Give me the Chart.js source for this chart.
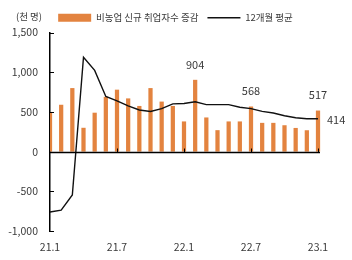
<!DOCTYPE html>
<html>
<head>
<meta charset="utf-8">
<script src="https://cdn.jsdelivr.net/npm/chart.js@4"></script>
<style>
  body { margin: 0; background: #fff; }
  #wrap { width: 352px; height: 260px; }
</style>
</head>
<body>
<div id="wrap"><canvas id="myChart" width="352" height="260"></canvas></div>
<script>
// 월 (21.1 ~ 23.1)
const months = ['21.1', '21.2', '21.3', '21.4', '21.5', '21.6', '21.7', '21.8', '21.9', '21.10', '21.11', '21.12',
  '22.1', '22.2', '22.3', '22.4', '22.5', '22.6', '22.7', '22.8', '22.9', '22.10', '22.11', '22.12', '23.1']

// 비농업 신규 취업자수 증감 (천 명)
const hiring = [500, 590, 800, 300, 490, 690, 780, 670, 575, 800, 630, 575,
  380, 904, 430, 270, 380, 380, 568, 362, 362, 332, 298, 269, 517]

// 12개월 평균 (천 명)
const avg12 = [-760, -738, -546, 1189, 1023, 694, 640, 575, 524, 506, 541, 601,
  605, 627, 592, 592, 592, 558, 541, 507, 486, 451, 426, 413, 414]

const yTicks = [-1000, -500, 0, 500, 1000, 1500]
const labeledBars = [13, 18, 24] // 값 표시하는 막대

const ctx = document.getElementById('myChart').getContext('2d')
const numFont = "'Noto Sans CJK KR', 'Noto Sans', sans-serif"
const textColor = '#3a3a3a'

// 축 보조선, 값 라벨 등
const extras = {
  id: 'extras',
  afterDatasetsDraw(chart) {
    const { ctx, chartArea, scales: { x, y } } = chart
    ctx.save()
    ctx.strokeStyle = '#000'

    // y축 안쪽 눈금
    ctx.lineWidth = 1
    yTicks.forEach(v => {
      const py = Math.round(y.getPixelForValue(v)) + 0.5
      ctx.beginPath()
      ctx.moveTo(chartArea.left, py)
      ctx.lineTo(chartArea.left + 4, py)
      ctx.stroke()
    })

    // 0 기준선
    const y0 = Math.round(y.getPixelForValue(0)) + 0.5
    ctx.lineWidth = 1.5
    ctx.beginPath()
    ctx.moveTo(chartArea.left, y0)
    ctx.lineTo(x.getPixelForValue(months.length - 1) + 2, y0)
    ctx.stroke()

    // x 눈금 (6개월 간격)
    ctx.lineWidth = 1
    months.forEach((m, i) => {
      if (i % 6 !== 0 || i === 0) return
      const px = Math.round(x.getPixelForValue(i)) + 0.5
      ctx.beginPath()
      ctx.moveTo(px, y0)
      ctx.lineTo(px, y0 - 4)
      ctx.stroke()
    })

    // 값 라벨
    ctx.fillStyle = textColor
    ctx.font = '11px ' + numFont
    ctx.textAlign = 'center'
    ctx.textBaseline = 'bottom'
    labeledBars.forEach(i => {
      const px = x.getPixelForValue(i)
      const py = y.getPixelForValue(hiring[i])
      ctx.fillText(String(hiring[i]), px, py - 10)
    })

    const last = avg12.length - 1
    ctx.textAlign = 'left'
    ctx.textBaseline = 'middle'
    ctx.fillText(String(avg12[last]), x.getPixelForValue(last) + 9, y.getPixelForValue(avg12[last]) + 1)

    // 단위
    ctx.font = '9.5px ' + numFont
    ctx.fillText('(천 명)', 16, 16)
    ctx.restore()
  },
}

const myChart = new Chart(ctx, {
  type: 'bar',
  data: {
    labels: months,
    datasets: [
      {
        type: 'bar',
        label: '비농업 신규 취업자수 증감',
        data: hiring,
        backgroundColor: '#E3833F',
        borderWidth: 0,
        categoryPercentage: 1,
        barPercentage: 0.38,
        clip: { left: 0, top: false, right: false, bottom: false },
        pointStyle: 'rect',
        order: 2,
      },
      {
        type: 'line',
        label: '12개월 평균',
        data: avg12,
        borderColor: '#111',
        backgroundColor: '#111',
        borderWidth: 1.4,
        pointRadius: 0,
        tension: 0,
        pointStyle: 'line',
        order: 1,
      },
    ],
  },
  options: {
    responsive: false,
    animation: false,
    devicePixelRatio: 1,
    layout: { padding: { left: 1, right: 2, top: 4, bottom: 0 } },
    plugins: {
      tooltip: { enabled: false },
      legend: {
        display: true,
        labels: {
          usePointStyle: true,
          pointStyleWidth: 33,
          boxHeight: 8,
          padding: 9,
          color: textColor,
          font: { family: numFont, size: 9.5 },
          sort: (a, b) => a.datasetIndex - b.datasetIndex,
        },
      },
    },
    scales: {
      x: {
        offset: false,
        grid: { display: false, drawTicks: false },
        border: { display: false },
        ticks: {
          autoSkip: false,
          maxRotation: 0,
          color: textColor,
          font: { family: numFont, size: 10.5 },
          padding: 10,
          callback: (v, i) => (i % 6 === 0 ? months[i] : null),
        },
        afterFit: s => { s.height = 29 },
      },
      y: {
        min: -1000,
        max: 1500,
        grid: { display: false, drawTicks: false },
        border: { display: true, color: '#000', width: 1.5 },
        ticks: {
          stepSize: 500,
          padding: 12,
          color: textColor,
          font: { family: numFont, size: 10.5 },
          callback: v => v.toLocaleString('en-US'),
        },
        afterFit: s => { s.width = 49 },
      },
      // 오른쪽 여백용 빈 축
      yRight: {
        position: 'right',
        grid: { display: false, drawTicks: false },
        border: { display: false },
        ticks: { display: false },
        afterFit: s => { s.width = 32 },
      },
    },
  },
  plugins: [extras],
})
</script>
</body>
</html>
